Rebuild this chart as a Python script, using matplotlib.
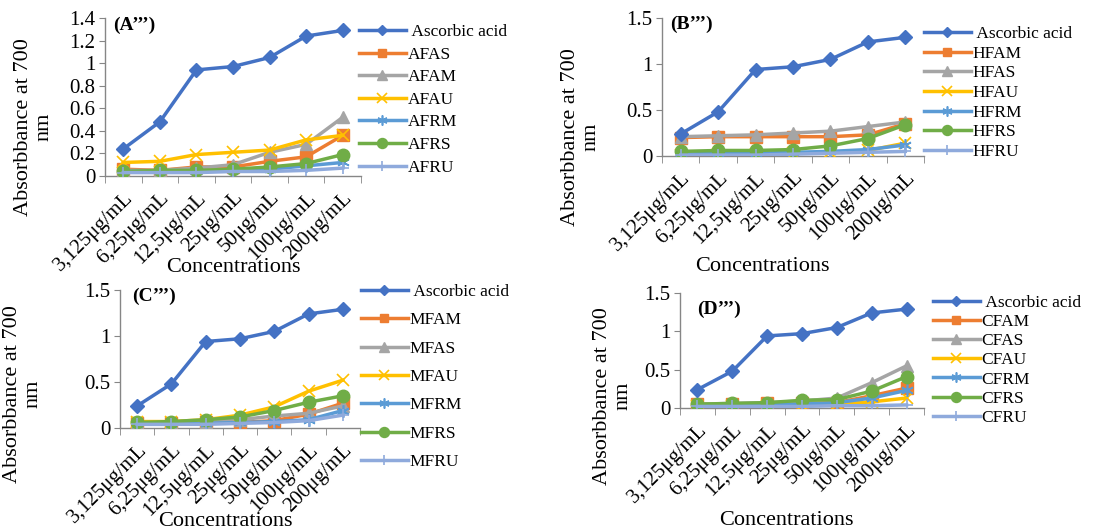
import matplotlib
matplotlib.use("Agg")
import matplotlib.pyplot as plt
from matplotlib.ticker import FixedLocator, FormatStrFormatter

plt.rcParams['font.family'] = ['Liberation Serif', 'DejaVu Serif']

concentrations = ["3,125μg/mL", "6,25μg/mL", "12,5μg/mL", "25μg/mL",
                  "50μg/mL", "100μg/mL", "200μg/mL"]
ascorbic = [0.24, 0.48, 0.94, 0.97, 1.05, 1.24, 1.29]

# panel A
a_names = ["AFAS", "AFAM", "AFAU", "AFRM", "AFRS", "AFRU"]
afas = [0.06, 0.05, 0.08, 0.08, 0.13, 0.17, 0.36]
afam = [0.05, 0.05, 0.07, 0.10, 0.21, 0.28, 0.52]
afau = [0.12, 0.13, 0.19, 0.21, 0.23, 0.32, 0.36]
afrm = [0.04, 0.04, 0.04, 0.05, 0.06, 0.09, 0.12]
afrs = [0.04, 0.05, 0.05, 0.06, 0.08, 0.11, 0.19]
afru = [0.03, 0.03, 0.03, 0.04, 0.04, 0.05, 0.07]

# panel B
b_names = ["HFAM", "HFAS", "HFAU", "HFRM", "HFRS", "HFRU"]
hfam = [0.20, 0.21, 0.21, 0.21, 0.21, 0.23, 0.35]
hfas = [0.21, 0.22, 0.23, 0.25, 0.27, 0.32, 0.37]
hfau = [0.01, 0.02, 0.02, 0.03, 0.04, 0.06, 0.14]
hfrm = [0.02, 0.03, 0.03, 0.04, 0.05, 0.07, 0.12]
hfrs = [0.05, 0.06, 0.06, 0.07, 0.11, 0.19, 0.34]
hfru = [0.01, 0.01, 0.01, 0.02, 0.03, 0.04, 0.05]

# panel C
c_names = ["MFAM", "MFAS", "MFAU", "MFRM", "MFRS", "MFRU"]
mfam = [0.05, 0.05, 0.06, 0.06, 0.08, 0.15, 0.27]
mfas = [0.06, 0.06, 0.07, 0.09, 0.13, 0.16, 0.24]
mfau = [0.07, 0.07, 0.09, 0.14, 0.23, 0.40, 0.52]
mfrm = [0.04, 0.04, 0.05, 0.06, 0.07, 0.09, 0.19]
mfrs = [0.06, 0.07, 0.09, 0.12, 0.19, 0.28, 0.35]
mfru = [0.04, 0.04, 0.04, 0.05, 0.06, 0.08, 0.14]

# panel D
d_names = ["CFAM", "CFAS", "CFAU", "CFRM", "CFRS", "CFRU"]
cfam = [0.05, 0.05, 0.06, 0.06, 0.07, 0.16, 0.26]
cfas = [0.05, 0.06, 0.07, 0.09, 0.13, 0.33, 0.55]
cfau = [0.03, 0.03, 0.03, 0.04, 0.05, 0.08, 0.13]
cfrm = [0.03, 0.04, 0.04, 0.05, 0.07, 0.13, 0.23]
cfrs = [0.05, 0.06, 0.07, 0.10, 0.11, 0.22, 0.41]
cfru = [0.02, 0.02, 0.02, 0.02, 0.03, 0.03, 0.04]

colors = ["#ED7D31", "#A5A5A5", "#FFC000", "#5B9BD5", "#70AD47", "#8FAADC"]
markers = ["s", "^", "x", (6, 2, 0), "o", "+"]
AXC = "#868686"

fig = plt.figure(figsize=(11.16, 5.31), dpi=100)

W, H = 1116.0, 531.0


def px_axes(left, top, right, bottom):
    return fig.add_axes([left / W, 1 - bottom / H, (right - left) / W, (bottom - top) / H])


panels = [
    dict(box=(105, 18, 361, 176), ymax=1.4, ystep=0.2, tag="(A’’’)", tagpos=(0.03, 0.955),
         names=a_names, series=[afas, afam, afau, afrm, afrs, afru],
         leg=(359, 24), lsp=0.37, ylab=(-0.277, 0.31), xlab=(0.5, -0.58)),
    dict(box=(662, 18, 924, 156), ymax=1.5, ystep=0.5, tag="(B’’’)", tagpos=(0.03, 0.955),
         names=b_names, series=[hfam, hfas, hfau, hfrm, hfrs, hfru],
         leg=(924, 26), lsp=0.2, ylab=(-0.309, 0.138), xlab=(0.385, -0.80)),
    dict(box=(120, 290, 360, 428), ymax=1.5, ystep=0.5, tag="(C’’’)", tagpos=(0.05, 0.955),
         names=c_names, series=[mfam, mfas, mfau, mfrm, mfrs, mfru],
         leg=(361, 284), lsp=0.7, ylab=(-0.404, 0.246), xlab=(0.44, -0.68)),
    dict(box=(680, 293, 924, 408), ymax=1.5, ystep=0.5, tag="(D’’’)", tagpos=(0.07, 0.86),
         names=d_names, series=[cfam, cfas, cfau, cfrm, cfrs, cfru],
         leg=(933, 295), lsp=0.17, ylab=(-0.275, 0.104), xlab=(0.434, -0.98)),
]

x = list(range(len(concentrations)))

for p in panels:
    ax = px_axes(*p["box"])
    ax.plot(x, ascorbic, color="#4472C4", lw=2.5, marker="D", ms=7,
            label=" Ascorbic acid", zorder=5)
    for name, vals, c, m in zip(p["names"], p["series"], colors, markers):
        mew = 1.2 if m in ("x", "+") or isinstance(m, tuple) else 1
        ax.plot(x, vals, color=c, lw=2.5, marker=m, ms=9 if m != "s" else 8,
                mew=mew, label=name)

    ax.set_xlim(-0.5, len(x) - 0.5)
    ax.set_ylim(0, p["ymax"])
    n = int(round(p["ymax"] / p["ystep"]))
    ax.yaxis.set_major_locator(FixedLocator([i * p["ystep"] for i in range(n + 1)]))
    ax.yaxis.set_major_formatter(FormatStrFormatter("%g"))
    ax.set_xticks(x)
    ax.set_xticklabels(concentrations, rotation=45, ha="right", rotation_mode="anchor")
    ax.set_xticks([i - 0.5 for i in range(len(x) + 1)], minor=True)
    ax.tick_params(axis="x", which="major", length=0, pad=9, labelsize=15)
    ax.tick_params(axis="x", which="minor", length=5, color=AXC, direction="out")
    ax.tick_params(axis="y", length=4, color=AXC, labelsize=15, pad=3)

    for s in ("top", "right"):
        ax.spines[s].set_visible(False)
    for s in ("left", "bottom"):
        ax.spines[s].set_color(AXC)
        ax.spines[s].set_linewidth(1)
    ax.spines["bottom"].set_zorder(0)

    ax.set_ylabel("Absorbbance at 700\nnm", fontsize=16, va="center", linespacing=1.1)
    ax.yaxis.set_label_coords(*p["ylab"])
    ax.set_xlabel("Concentrations", fontsize=16, va="center")
    ax.xaxis.set_label_coords(*p["xlab"])

    ax.text(p["tagpos"][0], p["tagpos"][1], p["tag"], transform=ax.transAxes,
            fontsize=14, fontweight="bold", ha="left", va="center")

    lx, ly = p["leg"]
    ax.legend(loc="upper left", bbox_to_anchor=(lx / W, 1 - ly / H),
              bbox_transform=fig.transFigure, frameon=False, fontsize=12.5,
              handlelength=2.7, handletextpad=0.1, borderpad=0, borderaxespad=0,
              labelspacing=p["lsp"], markerscale=0.8)

fig.savefig("out.png", dpi=100)
